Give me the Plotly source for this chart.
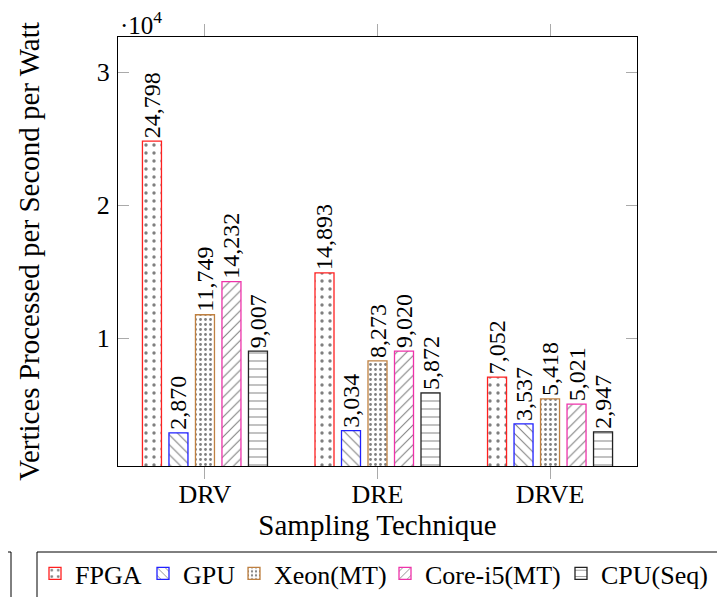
import plotly.graph_objects as go

categories = ["DRV", "DRE", "DRVE"]
series_names = ["FPGA", "GPU", "Xeon(MT)", "Core-i5(MT)", "CPU(Seq)"]
fpga = [24798, 14893, 7052]
gpu = [2870, 3034, 3537]
xeon = [11749, 8273, 5418]
corei5 = [14232, 9020, 5021]
cpu_seq = [9007, 5872, 2947]
y_tick_vals = [10000, 20000, 30000]
y_tick_text = ["1", "2", "3"]

values = [fpga, gpu, xeon, corei5, cpu_seq]
colors = ["#ff2020", "#2020ff", "#bf8040", "#ee33aa", "#222222"]
patterns = [(".", 8, 0.14), ("\\", 7, 0.15), (".", 5, 0.25), ("/", 7, 0.15), ("-", 8, 0.12)]

FONT = "Liberation Serif, Times New Roman, serif"

# The page body has an 8px default margin, so the figure is drawn 8px right/down.
OFF = 8
FIG_W, FIG_H = 725 - OFF, 597 - OFF
# plot-area edges in screenshot pixels
L, R, T, B = 118, 637, 37, 466
W, H = R - L, B - T

def px_x(x):
    return (x - L) / W

def px_y(y):
    return (B - y) / H

legend_text_starts = [76, 184, 275, 426, 602]
legend_ids = ["legend", "legend2", "legend3", "legend4", "legend5"]

fig = go.Figure()
for name, vals, col, (shape, size, sol), lid in zip(series_names, values, colors, patterns, legend_ids):
    fig.add_trace(go.Bar(
        name=name, x=categories, y=vals, legend=lid,
        marker=dict(color="white", line=dict(color=col, width=1.3),
                    pattern=dict(shape=shape, size=size, solidity=sol,
                                 fgcolor="black", bgcolor="white", fillmode="overlay")),
        texttemplate="%{y:,}", textposition="outside", textangle=-90,
        constraintext="none", cliponaxis=False,
        textfont=dict(family=FONT, size=24, color="black"),
    ))

legend_layouts = {}
for lid, tx in zip(legend_ids, legend_text_starts):
    legend_layouts[lid] = dict(orientation="h", x=px_x(tx - 41), xanchor="left",
                               y=px_y(550), yanchor="top", borderwidth=0,
                               bgcolor="rgba(0,0,0,0)",
                               font=dict(family=FONT, size=26, color="black"))

fig.update_layout(
    width=FIG_W, height=FIG_H,
    margin=dict(l=L - OFF, r=FIG_W - (R - OFF), t=T - OFF, b=FIG_H - (B - OFF), autoexpand=False),
    paper_bgcolor="white", plot_bgcolor="white",
    barmode="group", bargap=0.232, bargroupgap=0.283,
    font=dict(family=FONT, size=26, color="black"),
    showlegend=True,
    xaxis=dict(range=[-0.504, 2.504], showline=True, linecolor="black", linewidth=1,
               mirror="all", ticks="outside", ticklen=12, tickcolor="#aaaaaa",
               tickfont=dict(family=FONT, size=26), automargin=False,
               ticklabelstandoff=-7,
               title=dict(text="Sampling Technique", font=dict(family=FONT, size=29), standoff=0),
               showgrid=False, zeroline=False),
    yaxis=dict(range=[376, 32632], showline=True, linecolor="black", linewidth=1,
               mirror="all", ticks="inside", ticklen=11, tickcolor="#aaaaaa",
               tickvals=y_tick_vals, ticktext=y_tick_text, automargin=False,
               ticklabelstandoff=2,
               tickfont=dict(family=FONT, size=26),
               title=dict(text="Vertices Processed per Second per Watt",
                          font=dict(family=FONT, size=29), standoff=48),
               showgrid=False, zeroline=False),
    annotations=[dict(text="·10<sup>4</sup>", xref="paper", yref="paper", x=0, y=1,
                      xanchor="left", yanchor="bottom", showarrow=False, yshift=-4,
                      font=dict(family=FONT, size=25))],
    shapes=[
        dict(type="rect", xref="paper", yref="paper",
             x0=px_x(-20), x1=px_x(11), y0=px_y(552), y1=px_y(640),
             line=dict(color="black", width=1), fillcolor="rgba(0,0,0,0)"),
        dict(type="rect", xref="paper", yref="paper",
             x0=px_x(37), x1=px_x(720), y0=px_y(552), y1=px_y(640),
             line=dict(color="black", width=1), fillcolor="rgba(0,0,0,0)"),
    ],
    **legend_layouts,
)

fig.write_html("out.html")
